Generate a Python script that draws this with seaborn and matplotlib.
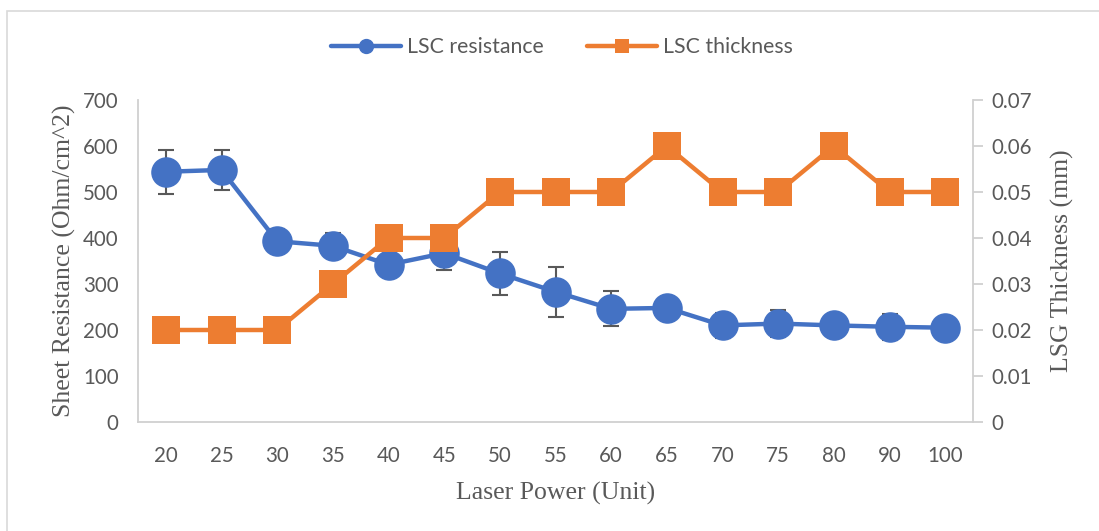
import numpy as np
import pandas as pd
import matplotlib
matplotlib.use("Agg")
import matplotlib.pyplot as plt
from matplotlib.patches import Rectangle
import seaborn as sns

# Measurements per laser power setting
laser_power = ["20", "25", "30", "35", "40", "45", "50", "55", "60", "65", "70", "75", "80", "90", "100"]
resistance = [544, 548, 393, 383, 342, 367, 323, 283, 246, 248, 210, 214, 210, 207, 205]
resistance_err = [48, 43, 26, 27, 12, 37, 47, 55, 38, 14, 27, 30, 12, 28, 24]
thickness = [0.02, 0.02, 0.02, 0.03, 0.04, 0.04, 0.05, 0.05, 0.05, 0.06, 0.05, 0.05, 0.06, 0.05, 0.05]
left_ticks = [0, 100, 200, 300, 400, 500, 600, 700]
right_ticks = [0, 0.01, 0.02, 0.03, 0.04, 0.05, 0.06, 0.07]
right_tick_labels = ["0", "0.01", "0.02", "0.03", "0.04", "0.05", "0.06", "0.07"]

BLUE = "#4472C4"
ORANGE = "#ED7D31"
GREY_TXT = "#595959"
GREY_AX = "#D0D0D0"

sns.set_theme(style="white")
plt.rcParams["font.family"] = ["Lato", "DejaVu Sans"]

pos = np.arange(len(laser_power))
df = pd.DataFrame({"pos": pos, "resistance": resistance, "err": resistance_err,
                   "thickness": thickness})

fig = plt.figure(figsize=(10.99, 5.31), dpi=100)
fig.patches.append(Rectangle((7 / 1099, -0.1), 1.2, 0.1 + (531 - 11) / 531,
                             transform=fig.transFigure, fill=False,
                             edgecolor="#D9D9D9", linewidth=1.2, zorder=0))
ax = fig.add_axes([138 / 1099, (531 - 422) / 531, (973 - 138) / 1099, 322 / 531])
ax2 = ax.twinx()

# Error bars sit beneath the resistance markers
ax.errorbar(df["pos"], df["resistance"], yerr=df["err"], fmt="none",
            ecolor=GREY_TXT, elinewidth=1.5, capsize=6, capthick=1.5, zorder=1)
sns.lineplot(data=df, x="pos", y="resistance", ax=ax, color=BLUE, linewidth=3.2,
             marker="o", markersize=22, markeredgewidth=0, zorder=3, legend=False)
sns.lineplot(data=df, x="pos", y="thickness", ax=ax2, color=ORANGE, linewidth=3.2,
             marker="s", markersize=20, markeredgewidth=0, zorder=3, legend=False)

ax.set_xlim(-0.5, len(laser_power) - 0.5)
ax.set_ylim(0, 700)
ax2.set_ylim(0, 0.07)
ax.set_xticks(pos)
ax.set_xticklabels(laser_power)
ax.set_yticks(left_ticks)
ax2.set_yticks(right_ticks)
ax2.set_yticklabels(right_tick_labels)

for a in (ax, ax2):
    for s in a.spines.values():
        s.set_visible(False)
ax.spines["left"].set_visible(True)
ax.spines["bottom"].set_visible(True)
ax2.spines["right"].set_visible(True)
for s in (ax.spines["left"], ax.spines["bottom"], ax2.spines["right"]):
    s.set_color(GREY_AX)
    s.set_linewidth(1.3)

TICK_FS = 14.8
ax.tick_params(axis="x", length=0, pad=17, labelsize=TICK_FS, labelcolor=GREY_TXT)
ax.tick_params(axis="y", length=0, pad=14, labelsize=TICK_FS, labelcolor=GREY_TXT)
ax2.tick_params(axis="y", direction="out", length=7, width=1.3, color=GREY_AX,
                pad=6, labelsize=TICK_FS, labelcolor=GREY_TXT)
ax.grid(False)
ax2.grid(False)

serif = ["Liberation Serif", "DejaVu Serif"]
ax.set_xlabel("Laser Power (Unit)", family=serif, fontsize=18.5, color=GREY_TXT, labelpad=12)
ax.set_ylabel("Sheet Resistance (Ohm/cm^2)", family=serif, fontsize=18.5, color=GREY_TXT, labelpad=5)
ax2.set_ylabel("LSG Thickness (mm)", family=serif, fontsize=18.5, color=GREY_TXT, labelpad=14)

handles = [
    plt.Line2D([], [], color=BLUE, linewidth=3.2, marker="o", markersize=11, markeredgewidth=0),
    plt.Line2D([], [], color=ORANGE, linewidth=3.2, marker="s", markersize=10, markeredgewidth=0),
]
leg = fig.legend(handles, ["LSC resistance", "LSC thickness"], loc="center",
                 bbox_to_anchor=(562 / 1099, (531 - 47) / 531), ncol=2, frameon=False,
                 fontsize=15.3, handlelength=3.3, columnspacing=2.0, handletextpad=0.3)
for t in leg.get_texts():
    t.set_color(GREY_TXT)

fig.savefig("out.png", dpi=100)
